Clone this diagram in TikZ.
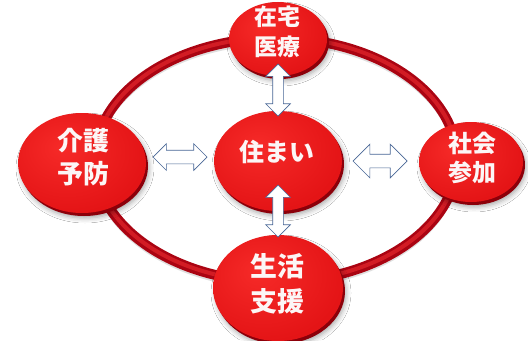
\documentclass[tikz,border=0pt]{standalone}
\usepackage{fontspec}
\newfontfamily\cjk{Noto Sans CJK JP}
\usetikzlibrary{shapes.geometric,shapes.arrows,shadows.blur}
\definecolor{facelight}{RGB}{246,42,40}
\definecolor{facered}{RGB}{228,20,22}
\definecolor{facedark}{RGB}{190,6,14}
\definecolor{rimred}{RGB}{140,0,10}
\definecolor{ringred}{RGB}{170,4,18}
\definecolor{ringlight}{RGB}{210,28,36}
\definecolor{arrowline}{RGB}{72,102,150}
\definecolor{txtwhite}{RGB}{252,246,246}
\pgfdeclareradialshading{btnshade}{\pgfpoint{-8bp}{8bp}}{color(0bp)=(facelight); color(30bp)=(facered); color(50bp)=(facered); color(62bp)=(facedark); color(80bp)=(facedark)}
\begin{document}
\begin{tikzpicture}[x=1bp,y=1bp,
  btn/.style={ellipse, inner sep=0pt, shading=btnshade,
    blur shadow={shadow xshift=3bp, shadow yshift=-5bp, shadow blur radius=5bp, shadow opacity=35},
    preaction={fill=rimred, transform canvas={shift={(2bp,-3bp)}}}},
  lbl/.style={text=txtwhite, font=\cjk\bfseries, align=center, inner sep=0pt},
  dblarr/.style={double arrow, draw=arrowline, fill=white, line width=0.7bp, double arrow head indent=0pt}]
\useasboundingbox (0,0) rectangle (528,340);
\fill[white] (0,0) rectangle (528,340);
% ring
\draw[gray!25, line width=6bp] (276,176) ellipse [x radius=181, y radius=122];
\draw[ringred, line width=10bp] (276,180) ellipse [x radius=181, y radius=122];
\draw[ringlight, line width=4bp] (276,180.5) ellipse [x radius=181, y radius=122];
% buttons
\node[btn, minimum width=98bp, minimum height=74bp] (top) at (278,301) {};
\node[btn, minimum width=128bp, minimum height=100bp] (mid) at (278,179) {};
\node[btn, minimum width=128bp, minimum height=100bp] (left) at (82,177) {};
\node[btn, minimum width=104bp, minimum height=80bp] (right) at (471,178) {};
\node[btn, minimum width=130bp, minimum height=106bp] (bot) at (278,52) {};
% labels
\node[lbl, font=\cjk\bfseries\fontsize{23}{30}\selectfont] (ttop) at (277,308) {在宅\\医療};
\node[lbl, font=\cjk\bfseries\fontsize{25}{30}\selectfont] (tmid) at (277,188) {住まい};
\node[lbl, font=\cjk\bfseries\fontsize{26}{33}\selectfont] (tleft) at (83,183) {介護\\予防};
\node[lbl, font=\cjk\bfseries\fontsize{24}{29}\selectfont] (tright) at (472,182) {社会\\参加};
\node[lbl, font=\cjk\bfseries\fontsize{27}{35}\selectfont] (tbot) at (277,56) {生活\\支援};
% arrows
\node[dblarr, shape border rotate=90, inner sep=5bp, minimum height=52bp, double arrow head extend=7bp] (a1) at (278,250) {};
\node[dblarr, shape border rotate=90, inner sep=5bp, minimum height=52bp, double arrow head extend=7bp] (a2) at (278,129) {};
\node[dblarr, inner sep=6.5bp, minimum height=54bp, double arrow head extend=6.5bp] (a3) at (180,183) {};
\node[dblarr, inner sep=6.5bp, minimum height=54bp, double arrow head extend=10bp] (a4) at (380,179) {};
\end{tikzpicture}
\end{document}
